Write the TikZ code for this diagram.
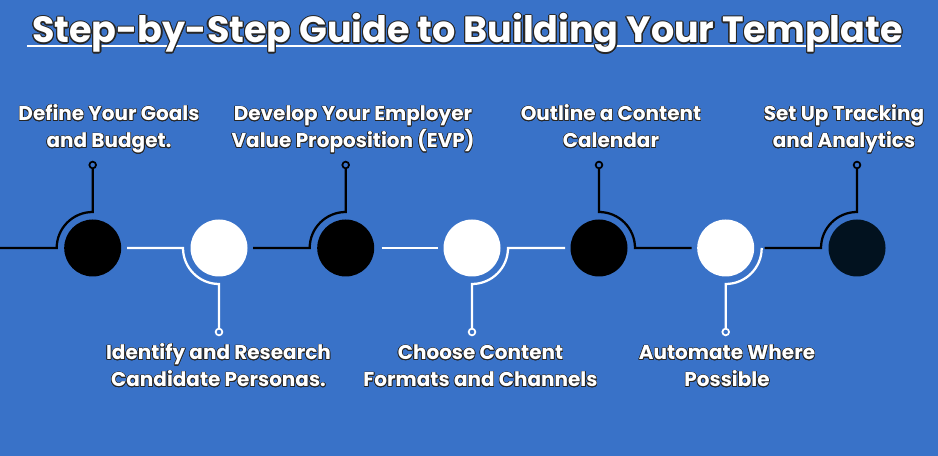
\documentclass[tikz,border=0pt]{standalone}
\usepackage{fontspec}
\setmainfont{Poppins}
\usepackage[copies]{contour}
\usetikzlibrary{calc}
\definecolor{guideblue}{RGB}{57,114,200}
\definecolor{navydot}{RGB}{2,18,31}
\newcommand{\olt}[1]{\contour{black!85}{#1}}
\tikzset{
  stepdot/.style={circle, minimum size=42.75pt, inner sep=0pt},
  pin/.style={circle, draw, line width=1.3pt, fill=guideblue, minimum size=5pt, inner sep=0pt},
  wire/.style={line width=1.7pt},
  steplabel/.style={text=white, align=center, anchor=base, inner sep=0pt,
    font=\bfseries\fontsize{15}{20.25}\selectfont\contourlength{0.45pt}},
}

\begin{document}
\begin{tikzpicture}[x=0.75pt, y=0.75pt]
  \useasboundingbox (0,0) rectangle (938,456);
  \fill[guideblue] (-3,-3) rectangle (941,459);

  % title
  \draw[white, line width=1.5pt] (27,410) -- (901,410);
  \node[text=white, anchor=base, inner sep=0pt, font=\bfseries\fontsize{27.4}{32}\selectfont\contourlength{0.8pt}] (title) at (467.5,413) {\olt{Step-by-Step Guide to Building Your Template}};

  % the seven steps
  \node[stepdot, fill=black] (s1) at (92.7,208) {};
  \node[stepdot, fill=white] (s2) at (219,208) {};
  \node[stepdot, fill=black] (s3) at (345.7,208) {};
  \node[stepdot, fill=white] (s4) at (472,208) {};
  \node[stepdot, fill=black] (s5) at (599,208) {};
  \node[stepdot, fill=white] (s6) at (725.7,208) {};
  \node[stepdot, fill=navydot] (s7) at (857,208) {};

  % end pins
  \node[pin, draw=black] (p1) at (92.7,291) {};
  \node[pin, draw=white] (p2) at (219,124) {};
  \node[pin, draw=black] (p3) at (345.7,291) {};
  \node[pin, draw=white] (p4) at (472,124) {};
  \node[pin, draw=black] (p5) at (599,291) {};
  \node[pin, draw=white] (p6) at (725.7,124) {};
  \node[pin, draw=black] (p7) at (857,291) {};

  % wires
  \draw[wire, black] (-3,208) -- ($(s1)+(-36,0)$) arc[start angle=180, end angle=90, radius=27pt] -- (p1);
  \draw[wire, white] ($(s1)+(34.3,0)$) -- ($(s2)+(-36,0)$) arc[start angle=180, end angle=270, radius=27pt] -- (p2);
  \draw[wire, black] ($(s2)+(34,0)$) -- ($(s3)+(-36,0)$) arc[start angle=180, end angle=90, radius=27pt] -- (p3);
  \draw[wire, white] ($(s3)+(36,0)$) -- ($(s4)+(-34,0)$);
  \draw[wire, white] (p4) -- ($(s4)+(0,-36)$) arc[start angle=270, end angle=360, radius=27pt] -- ($(s5)+(-34,0)$);
  \draw[wire, black] (p5) -- ($(s5)+(0,36)$) arc[start angle=90, end angle=0, radius=27pt] -- ($(s6)+(-34,0)$);
  \draw[wire, white] (p6) -- ($(s6)+(0,-36)$) arc[start angle=270, end angle=360, radius=27pt];
  \draw[wire, black] ($(s6)+(39,0)$) -- ($(s7)+(-36,0)$) arc[start angle=180, end angle=90, radius=27pt] -- (p7);

  % labels
  \node[steplabel] (l1) at (109,308) {\olt{Define Your Goals}\\\olt{and Budget.}};
  \node[steplabel] (l2) at (218.5,69) {\olt{Identify and Research}\\\olt{Candidate Personas.}};
  \node[steplabel] (l3) at (353,308) {\olt{Develop Your Employer}\\\olt{Value Proposition (EVP)}};
  \node[steplabel] (l4) at (480.5,69) {\olt{Choose Content}\\\olt{Formats and Channels}};
  \node[steplabel] (l5) at (611,308) {\olt{Outline a Content}\\\olt{Calendar}};
  \node[steplabel] (l6) at (727,69) {\olt{Automate Where}\\\olt{Possible}};
  \node[steplabel] (l7) at (844,308) {\olt{Set Up Tracking}\\\olt{and Analytics}};
\end{tikzpicture}
\end{document}
